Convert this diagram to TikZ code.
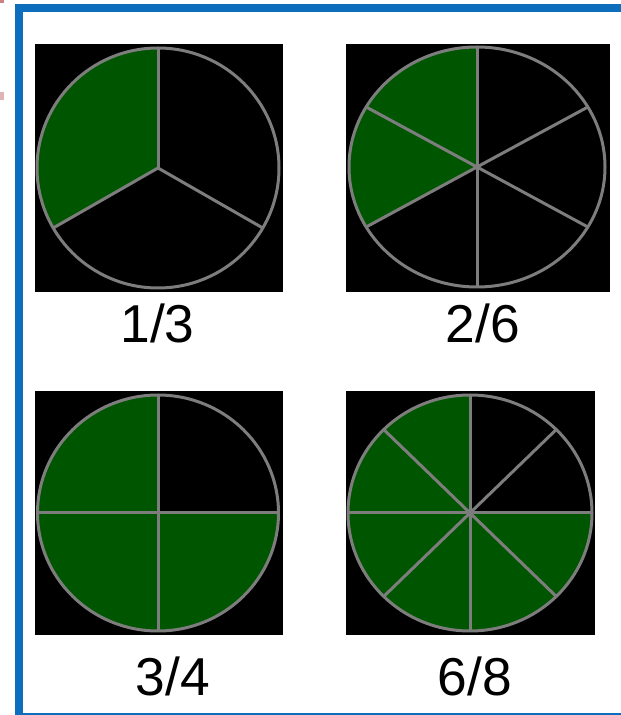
\documentclass[tikz,border=0pt]{standalone}
\usepackage{fontspec}
\setmainfont{Liberation Sans}
\definecolor{pgreen}{RGB}{0,85,0}
\definecolor{pline}{RGB}{125,125,125}
\definecolor{pblue}{RGB}{14,110,190}
\definecolor{pmark}{RGB}{205,130,130}
\tikzset{
  slice/.style={fill=pgreen},
  spoke/.style={draw=pline,line width=2.25pt},
  rim/.style={draw=pline,line width=2.25pt},
  panelbg/.style={fill=black},
  lbl/.style={inner sep=0pt,anchor=base,font=\fontsize{40}{40}\selectfont},
  frame/.style={fill=pblue}
}
\newcommand{\pie}[7]{% cx cy rx ry n greenstart greenend
  \begin{scope}[shift={(#1,#2)}]
    \fill[slice] (0,0) -- (#6:#3 and #4) arc[start angle=#6,end angle=#7,x radius=#3,y radius=#4] -- cycle;
    \pgfmathsetmacro{\pstep}{360/#5}
    \foreach \k in {1,...,#5}{
      \pgfmathsetmacro{\pang}{90+(\k-1)*\pstep}
      \draw[spoke] (0,0) -- (\pang:#3 and #4);
    }
    \draw[rim] (0,0) ellipse[x radius=#3,y radius=#4];
  \end{scope}}
\begin{document}
\begin{tikzpicture}[x=0.75pt,y=0.75pt]
\useasboundingbox (0,0) rectangle (621,715);
\fill[white] (0,0) rectangle (621,715);
% faint marks
\fill[pmark] (0,712) rectangle (4,715);
\fill[pmark!60] (0,615) rectangle (4,623);
% frame
\fill[frame] (15,1) rectangle (23,711);
\fill[frame] (15,703) rectangle (621,711);
\fill[frame] (15,0.2) rectangle (621,1.6);
% panels
\fill[panelbg] (35,423) rectangle (283,671);
\fill[panelbg] (346,423) rectangle (610,671);
\fill[panelbg] (35,80) rectangle (283,324);
\fill[panelbg] (346,80) rectangle (595,324);
\pie{158}{547}{121}{120}{3}{90}{210}
\pie{477}{548}{128}{120}{6}{90}{210}
\pie{158}{202}{120.5}{118}{4}{90}{360}
\pie{470}{202}{122}{118}{8}{90}{360}
\fill[pline] (467,199) rectangle (473,205);
% labels
\node[lbl] (l1) at (157.5,372) {1/3};
\node[lbl] (l2) at (483,372) {2/6};
\node[lbl] (l3) at (173,20) {3/4};
\node[lbl] (l4) at (475,20) {6/8};
\end{tikzpicture}
\end{document}
